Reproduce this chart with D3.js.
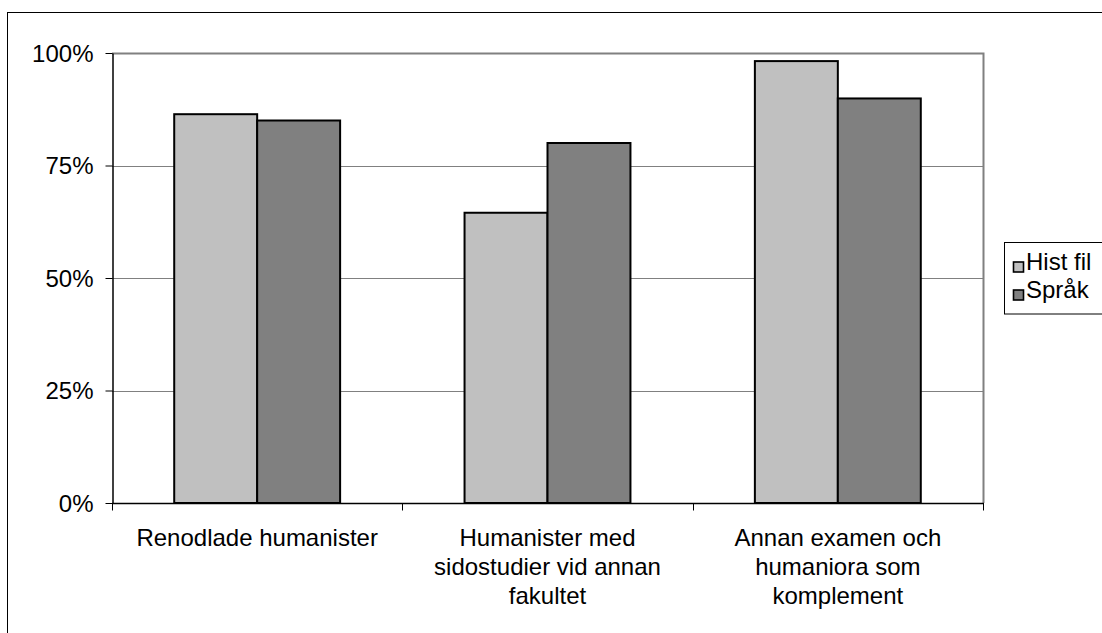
<!DOCTYPE html>
<html>
<head>
<meta charset="utf-8">
<script src="https://cdn.jsdelivr.net/npm/d3@7"></script>
<style>
  html, body { margin: 0; padding: 0; background: #fff; }
  svg { display: block; }
  text { font-family: "Liberation Sans", Arial, sans-serif; fill: #000; }
</style>
</head>
<body>
<svg id="chart" width="1102" height="633"></svg>
<script>
const categories = [
  "Renodlade humanister",
  "Humanister med\nsidostudier vid annan\nfakultet",
  "Annan examen och\nhumaniora som\nkomplement"
];
const seriesNames = ["Hist fil", "Språk"];
const histFil = [0.864, 0.645, 0.982];
const sprak = [0.850, 0.800, 0.899];
const yTicks = [0, 0.25, 0.5, 0.75, 1];
const seriesColors = ["#C0C0C0", "#808080"];

const seriesValues = [histFil, sprak];
const data = categories.map((c, i) => ({
  cat: c,
  vals: seriesNames.map((s, j) => ({ series: s, value: seriesValues[j][i], color: seriesColors[j] }))
}));

const svg = d3.select("#chart");
const plot = { left: 112, right: 983, top: 53, bottom: 503 };

// outer chart border (extends beyond the viewport on right/bottom)
svg.append("rect")
  .attr("x", 7.5).attr("y", 12.5)
  .attr("width", 1300).attr("height", 800)
  .attr("fill", "#fff").attr("stroke", "#000").attr("stroke-width", 1);

const x0 = d3.scaleBand().domain(categories).range([plot.left, plot.right]).paddingInner(0).paddingOuter(0);
const x1 = d3.scaleBand().domain(seriesNames).range([0, x0.bandwidth()]).paddingInner(0).paddingOuter(0.75);
const y = d3.scaleLinear().domain([0, 1]).range([plot.bottom, plot.top]);

// gridlines
svg.append("g").selectAll("line")
  .data(yTicks.filter(d => d > 0 && d < 1))
  .join("line")
  .attr("x1", plot.left).attr("x2", plot.right)
  .attr("y1", d => Math.round(y(d)) + 0.5).attr("y2", d => Math.round(y(d)) + 0.5)
  .attr("stroke", "#808080").attr("stroke-width", 1);

// plot area border (top and right, gray)
svg.append("path")
  .attr("d", `M${plot.left},${y(1) + 0.5}H${plot.right + 0.5}V${plot.bottom}`)
  .attr("fill", "none").attr("stroke", "#808080").attr("stroke-width", 2);

// bars
const groups = svg.append("g").selectAll("g")
  .data(data).join("g")
  .attr("transform", d => `translate(${x0(d.cat)},0)`);
groups.selectAll("rect")
  .data(d => d.vals).join("rect")
  .attr("x", d => x1(d.series))
  .attr("y", d => y(d.value))
  .attr("width", x1.bandwidth())
  .attr("height", d => y(0) - y(d.value))
  .attr("fill", d => d.color)
  .attr("stroke", "#000").attr("stroke-width", 2);

// y axis
const yAxis = d3.axisLeft(y).tickValues(yTicks).tickFormat(d3.format(".0%"))
  .tickSize(7).tickSizeOuter(0).tickPadding(12);
const yg = svg.append("g").attr("transform", `translate(${plot.left + 0.5},0)`).call(yAxis);
yg.select(".domain").attr("stroke", "#000").attr("stroke-width", 1.5);
yg.selectAll(".tick line").attr("stroke", "#000").attr("stroke-width", 1);
yg.selectAll(".tick text").attr("font-size", 24).attr("font-family", "Liberation Sans, Arial, sans-serif").attr("fill", "#000").attr("dy", "0.35em");

// x axis line and boundary ticks
const boundaries = categories.map(c => x0(c)).concat([x0(categories[categories.length - 1]) + x0.bandwidth()]);
svg.append("line")
  .attr("x1", plot.left).attr("x2", plot.right + 1)
  .attr("y1", y(0) + 0.5).attr("y2", y(0) + 0.5)
  .attr("stroke", "#000").attr("stroke-width", 1.5);
svg.append("g").selectAll("line")
  .data(boundaries).join("line")
  .attr("x1", d => Math.round(d) + 0.5).attr("x2", d => Math.round(d) + 0.5)
  .attr("y1", y(0)).attr("y2", y(0) + 7.5)
  .attr("stroke", "#000").attr("stroke-width", 1);

// category labels
const lineH = 29.3;
svg.append("g").selectAll("text")
  .data(categories).join("text")
  .attr("text-anchor", "middle")
  .attr("font-size", 24)
  .attr("transform", d => `translate(${x0(d) + x0.bandwidth() / 2},${545.7})`)
  .each(function (d) {
    d3.select(this).selectAll("tspan")
      .data(d.split("\n")).join("tspan")
      .attr("x", 0).attr("y", (t, i) => i * lineH)
      .text(t => t);
  });

// legend
const leg = svg.append("g");
leg.append("rect")
  .attr("x", 1004.5).attr("y", 242.5)
  .attr("width", 200).attr("height", 71.5)
  .attr("fill", "#fff").attr("stroke", "#000").attr("stroke-width", 1);
const items = leg.selectAll("g.item")
  .data(seriesNames).join("g").attr("class", "item")
  .attr("transform", (d, i) => `translate(0,${i * 28})`);
items.append("rect")
  .attr("x", 1013.5).attr("y", 262)
  .attr("width", 10).attr("height", 10)
  .attr("fill", (d, i) => seriesColors[i])
  .attr("stroke", "#000").attr("stroke-width", 1.6);
items.append("text")
  .attr("x", 1026).attr("y", 269.5)
  .attr("font-size", 24)
  .text(d => d);
</script>
</body>
</html>
